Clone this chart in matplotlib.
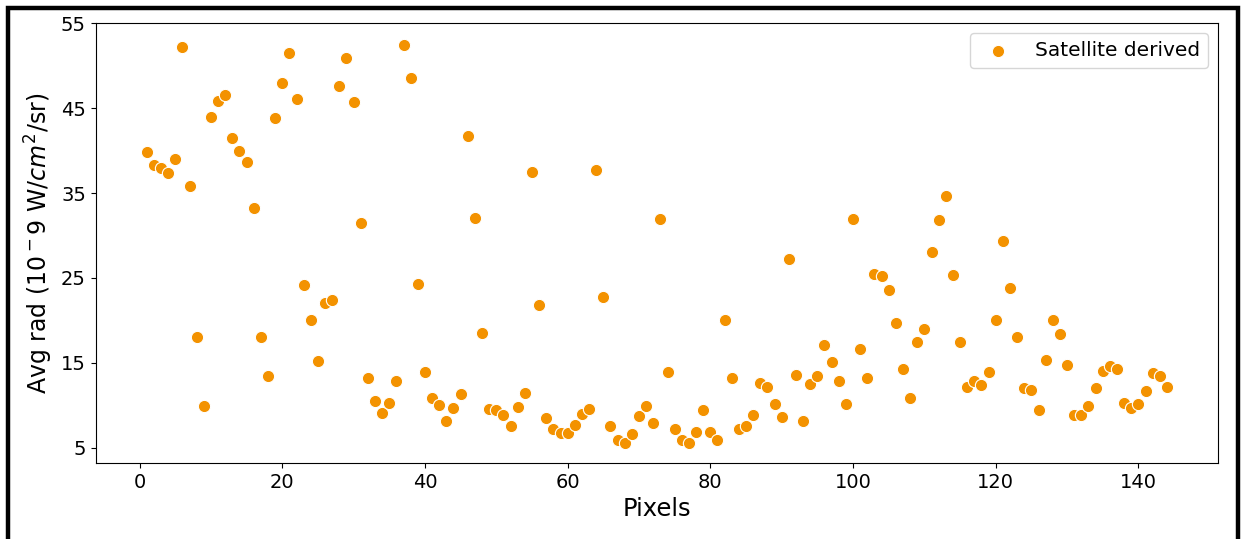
import matplotlib
matplotlib.use('Agg')
import matplotlib.pyplot as plt
from matplotlib.patches import Rectangle
import numpy as np

# pixel index along the transect
pixels = np.arange(1, 145)

# satellite derived average radiance, one value per pixel
avg_rad = [
    39.8, 38.3, 38.0, 37.4, 39.0, 52.2, 35.8, 18.0, 9.9, 44.0,
    45.8, 46.6, 41.5, 39.9, 38.6, 33.2, 18.1, 13.5, 43.8, 48.0,
    51.5, 46.1, 24.2, 20.0, 15.2, 22.0, 22.4, 47.6, 50.9, 45.7,
    31.5, 13.2, 10.5, 9.1, 10.3, 12.8, 52.4, 48.6, 24.3, 13.9,
    10.8, 10.0, 8.1, 9.7, 11.3, 41.7, 32.0, 18.5, 9.6, 9.5,
    8.9, 7.5, 9.8, 11.5, 37.5, 21.8, 8.5, 7.2, 6.7, 6.7,
    7.7, 9.0, 9.6, 37.7, 22.8, 7.6, 5.9, 5.5, 6.6, 8.7,
    9.9, 7.9, 31.9, 13.9, 7.2, 5.9, 5.6, 6.9, 9.5, 6.9,
    5.9, 20.0, 13.2, 7.2, 7.6, 8.9, 12.6, 12.2, 10.1, 8.6,
    27.2, 13.6, 8.2, 12.5, 13.5, 17.1, 15.1, 12.8, 10.1, 31.9,
    16.6, 13.2, 25.5, 25.2, 23.6, 19.7, 14.3, 10.8, 17.5, 19.0,
    28.1, 31.8, 34.6, 25.3, 17.5, 12.2, 12.8, 12.4, 13.9, 20.0,
    29.3, 23.8, 18.0, 12.0, 11.8, 9.5, 15.3, 20.0, 18.4, 14.7,
    8.9, 8.9, 9.9, 12.0, 14.0, 14.6, 14.3, 10.3, 9.7, 10.2,
    11.7, 13.8, 13.5, 12.1,
]

yticks = [5, 15, 25, 35, 45, 55]

fig = plt.figure(figsize=(12.46, 5.39), dpi=100)
ax = fig.add_axes([0.0768, 0.141, 0.9007, 0.8159])

ax.scatter(pixels, avg_rad, s=78, color='#f39200', edgecolor='white',
           linewidth=0.8, label='Satellite derived', zorder=3)

ax.set_xlim(-6.15, 151.15)
ax.set_ylim(3.2, 55.0)
ax.set_yticks(yticks)
ax.tick_params(labelsize=14)
ax.set_xlabel('Pixels', fontsize=17.5)
ax.set_ylabel('Avg rad (10$^-9$ W/$cm^2$/sr)', fontsize=17)
ax.legend(loc='upper right', fontsize=14.5)

# thick black frame round the figure
fig.patches.append(Rectangle((8 / 1246, -0.05), 1230 / 1246, 1.05 - 8 / 539,
                             transform=fig.transFigure, fill=False,
                             edgecolor='black', linewidth=3.2))

fig.savefig('out.png', dpi=100)
